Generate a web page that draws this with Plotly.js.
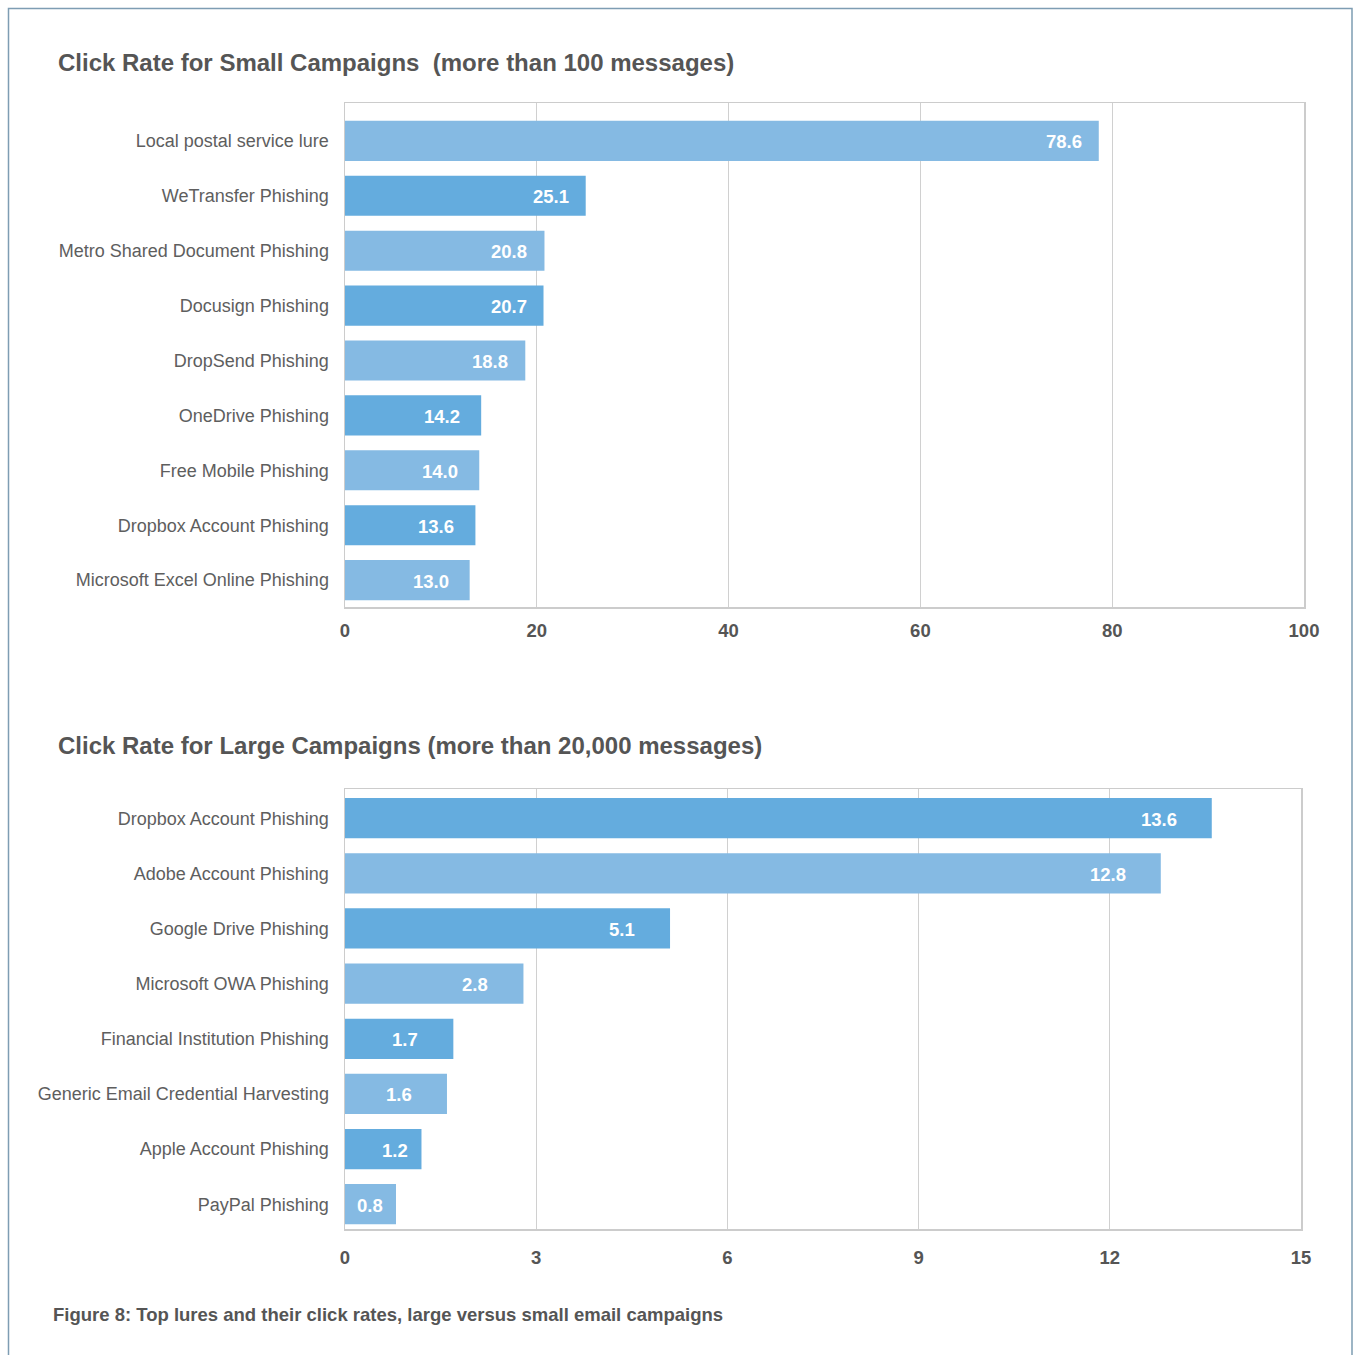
<!DOCTYPE html>
<html>
<head>
<meta charset="utf-8">
<script src="https://cdn.plot.ly/plotly-3.0.1.min.js"></script>
<style>
html,body{margin:0;padding:0;background:#fff;}
#chart{width:1353px;height:1355px;}
</style>
</head>
<body>
<div id="chart"></div>
<script>
// ---- Data ----
const smallLabels = [
  "Local postal service lure",
  "WeTransfer Phishing",
  "Metro Shared Document Phishing",
  "Docusign Phishing",
  "DropSend Phishing",
  "OneDrive Phishing",
  "Free Mobile Phishing",
  "Dropbox Account Phishing",
  "Microsoft Excel Online Phishing"
];
const smallValues = [78.6, 25.1, 20.8, 20.7, 18.8, 14.2, 14.0, 13.6, 13.0];

const largeLabels = [
  "Dropbox Account Phishing",
  "Adobe Account Phishing",
  "Google Drive Phishing",
  "Microsoft OWA Phishing",
  "Financial Institution Phishing",
  "Generic Email Credential Harvesting",
  "Apple Account Phishing",
  "PayPal Phishing"
];
const largeValues = [13.6, 12.8, 5.1, 2.8, 1.7, 1.6, 1.2, 0.8];

const smallTicks = [0, 20, 40, 60, 80, 100];
const largeTicks = [0, 3, 6, 9, 12, 15];

const titleSmall = "Click Rate for Small Campaigns&#160;&#160;(more than 100 messages)";
const titleLarge = "Click Rate for Large Campaigns (more than 20,000 messages)";
const caption = "Figure 8: Top lures and their click rates, large versus small email campaigns";

// ---- Styling ----
const W = 1353, H = 1355;
const LIGHT = "#85bae3", DARK = "#64acde";
const FONT = "Liberation Sans, Arial, Helvetica, sans-serif";
const px = v => v / W;
const py = v => 1 - v / H;

function colors(n, startLight) {
  const c = [];
  for (let i = 0; i < n; i++) c.push((i % 2 === 0) === startLight ? LIGHT : DARK);
  return c;
}

const traces = [
  {
    type: "bar", orientation: "h",
    x: smallValues, y: smallLabels,
    xaxis: "x", yaxis: "y",
    marker: {color: colors(smallValues.length, true), line: {width: 0}},
    width: 0.73, hoverinfo: "x+y"
  },
  {
    type: "bar", orientation: "h",
    x: largeValues, y: largeLabels,
    xaxis: "x2", yaxis: "y2",
    marker: {color: colors(largeValues.length, false), line: {width: 0}},
    width: 0.73, hoverinfo: "x+y"
  }
];

const valFont = {family: FONT, size: 18.5, color: "#ffffff", weight: "bold"};
const annotations = [];
smallValues.forEach((v, i) => annotations.push({
  xref: "x", yref: "y", x: v, y: smallLabels[i],
  text: v.toFixed(1), showarrow: false, xanchor: "right",
  xshift: v < 15 ? -19 : -15, yshift: -1, font: valFont
}));
largeValues.forEach((v, i) => annotations.push({
  xref: "x2", yref: "y2", x: v, y: largeLabels[i],
  text: v.toFixed(1), showarrow: false, xanchor: "right",
  xshift: v < 1.5 ? -11 : -33, yshift: -1, font: valFont
}));
annotations.push(
  {xref: "paper", yref: "paper", x: px(56), y: py(62), xanchor: "left", yanchor: "middle",
   text: titleSmall, showarrow: false,
   font: {family: FONT, size: 24, color: "#555555", weight: "bold"}},
  {xref: "paper", yref: "paper", x: px(56), y: py(745), xanchor: "left", yanchor: "middle",
   text: titleLarge, showarrow: false,
   font: {family: FONT, size: 24, color: "#555555", weight: "bold"}},
  {xref: "paper", yref: "paper", x: px(51), y: py(1314), xanchor: "left", yanchor: "middle",
   text: caption, showarrow: false,
   font: {family: FONT, size: 18.5, color: "#555555", weight: "bold"}}
);

const xCommon = {
  showgrid: true, gridcolor: "#d0d0d0", gridwidth: 1,
  showline: true, linecolor: "#cccccc", linewidth: 1.5, mirror: true,
  zeroline: false, ticks: "", ticklabelstandoff: 6,
  tickfont: {family: FONT, size: 18.5, color: "#555555", weight: "bold"},
  fixedrange: true
};
const yCommon = {
  type: "category", showgrid: false,
  showline: true, linecolor: "#cccccc", linewidth: 1.5, mirror: true,
  zeroline: false, ticks: "", ticklabelstandoff: 11,
  tickfont: {family: FONT, size: 18, color: "#5e5e5e"},
  fixedrange: true
};

const layout = {
  width: W, height: H,
  margin: {l: 0, r: 0, t: 0, b: 0, pad: 0},
  paper_bgcolor: "#ffffff", plot_bgcolor: "#ffffff",
  showlegend: false,
  xaxis: Object.assign({}, xCommon, {
    domain: [px(345), px(1304)], anchor: "y",
    range: [0, 100], tickvals: smallTicks, ticktext: smallTicks.map(String)
  }),
  yaxis: Object.assign({}, yCommon, {
    domain: [py(607), py(103)], anchor: "x",
    range: [smallLabels.length - 1 + 0.49, -0.69]
  }),
  xaxis2: Object.assign({}, xCommon, {
    domain: [px(345), px(1301)], anchor: "y2",
    range: [0, 15], tickvals: largeTicks, ticktext: largeTicks.map(String),
    ticklabelstandoff: 11
  }),
  yaxis2: Object.assign({}, yCommon, {
    domain: [py(1229), py(789)], anchor: "x2",
    range: [largeLabels.length - 1 + 0.45, -0.53]
  }),
  annotations: annotations,
  shapes: [
    {type: "path", xref: "paper", yref: "paper",
     path: `M ${px(8.5)} ${py(1360)} L ${px(8.5)} ${py(8.5)} L ${px(1352)} ${py(8.5)} L ${px(1352)} ${py(1360)}`,
     line: {color: "#7e9db3", width: 1.5}}
  ]
};

Plotly.newPlot("chart", traces, layout, {displayModeBar: false, staticPlot: true});
</script>
</body>
</html>
